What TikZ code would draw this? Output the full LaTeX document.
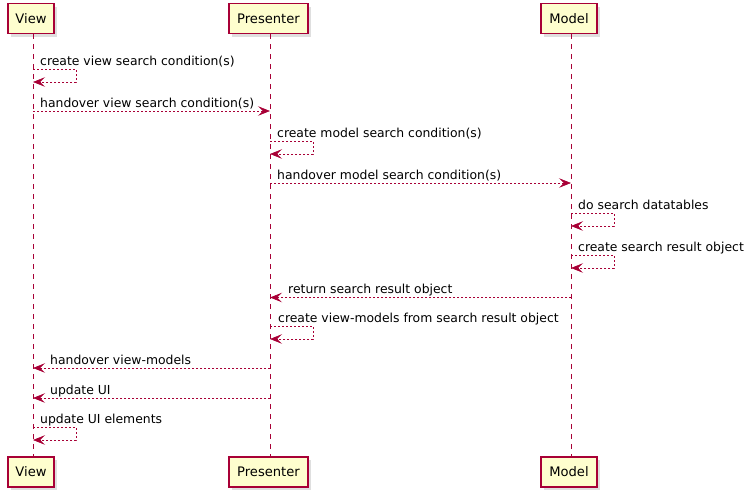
\documentclass[tikz,border=0pt]{standalone}
\usepackage{fontspec}
\setmainfont{DejaVu Sans}
\usetikzlibrary{arrows.meta,shadows}
\definecolor{pumlred}{HTML}{A80036}
\definecolor{pumlfill}{HTML}{FEFECE}
\begin{document}
\begin{tikzpicture}[x=1pt,y=-1pt,
  part/.style={draw=pumlred, line width=1.1pt, fill=pumlfill, minimum height=30pt, inner sep=0pt,
    font=\fontsize{13.1}{15}\selectfont,
    drop shadow={shadow xshift=3pt, shadow yshift=-3pt, opacity=0.25, fill=black!50}},
  life/.style={draw=pumlred, line width=0.9pt, dash pattern=on 5pt off 5pt},
  msg/.style={draw=pumlred, line width=0.9pt, dash pattern=on 2pt off 2pt,
    -{Stealth[length=12pt, width=9.5pt, inset=5pt, line width=0.6pt]}},
  lbl/.style={anchor=base west, inner sep=0pt, font=\fontsize{12.4}{14}\selectfont, text=black}]
\useasboundingbox (0,0) rectangle (755,498);
\fill[white] (0,0) rectangle (755,498);

% participants
\node[part, minimum width=46pt] (vt) at (31,18.5) {View};
\node[part, minimum width=79pt] (pt) at (268.5,18.5) {Presenter};
\node[part, minimum width=56pt] (mt) at (569,18.5) {Model};

% lifeline end points
\coordinate (va) at (33,34);  \coordinate (vz) at (33,457);
\coordinate (pa) at (270,34); \coordinate (pz) at (270,457);
\coordinate (ma) at (571,34); \coordinate (mz) at (571,457);

\draw[life] (va) -- (vz);
\draw[life] (pa) -- (pz);
\draw[life] (ma) -- (mz);

\node[part, minimum width=46pt] (vb) at (31,472) {View};
\node[part, minimum width=79pt] (pb) at (268.5,472) {Presenter};
\node[part, minimum width=56pt] (mb) at (569,472) {Model};

% 1 self View
\coordinate (s1a) at (33,69); \coordinate (s1b) at (33,82);
\draw[msg] (s1a) -- ++(43,0) |- (s1b);
\node[lbl] (l1) at (40,65) {create view search condition(s)};

% 2 View -> Presenter
\coordinate (m2a) at (33,111); \coordinate (m2b) at (270,111);
\draw[msg] (m2a) -- (m2b);
\node[lbl] (l2) at (40,107) {handover view search condition(s)};

% 3 self Presenter
\coordinate (s3a) at (270,141); \coordinate (s3b) at (270,154);
\draw[msg] (s3a) -- ++(43,0) |- (s3b);
\node[lbl] (l3) at (277,137) {create model search condition(s)};

% 4 Presenter -> Model
\coordinate (m4a) at (270,183); \coordinate (m4b) at (571,183);
\draw[msg] (m4a) -- (m4b);
\node[lbl] (l4) at (277,179) {handover model search condition(s)};

% 5 self Model
\coordinate (s5a) at (571,213); \coordinate (s5b) at (571,226);
\draw[msg] (s5a) -- ++(43,0) |- (s5b);
\node[lbl] (l5) at (578,209) {do search datatables};

% 6 self Model
\coordinate (s6a) at (571,255); \coordinate (s6b) at (571,268);
\draw[msg] (s6a) -- ++(43,0) |- (s6b);
\node[lbl] (l6) at (578,251) {create search result object};

% 7 Model -> Presenter
\coordinate (m7a) at (571,297.5); \coordinate (m7b) at (270,297.5);
\draw[msg] (m7a) -- (m7b);
\node[lbl] (l7) at (288,293) {return search result object};

% 8 self Presenter
\coordinate (s8a) at (270,326); \coordinate (s8b) at (270,339);
\draw[msg] (s8a) -- ++(43,0) |- (s8b);
\node[lbl] (l8) at (278,322) {create view-models from search result object};

% 9 Presenter -> View
\coordinate (m9a) at (270,368); \coordinate (m9b) at (33,368);
\draw[msg] (m9a) -- (m9b);
\node[lbl] (l9) at (50,364) {handover view-models};

% 10 Presenter -> View
\coordinate (m10a) at (270,398); \coordinate (m10b) at (33,398);
\draw[msg] (m10a) -- (m10b);
\node[lbl] (l10) at (50,394) {update UI};

% 11 self View
\coordinate (s11a) at (33,427); \coordinate (s11b) at (33,440);
\draw[msg] (s11a) -- ++(43,0) |- (s11b);
\node[lbl] (l11) at (40,423) {update UI elements};
\end{tikzpicture}
\end{document}
